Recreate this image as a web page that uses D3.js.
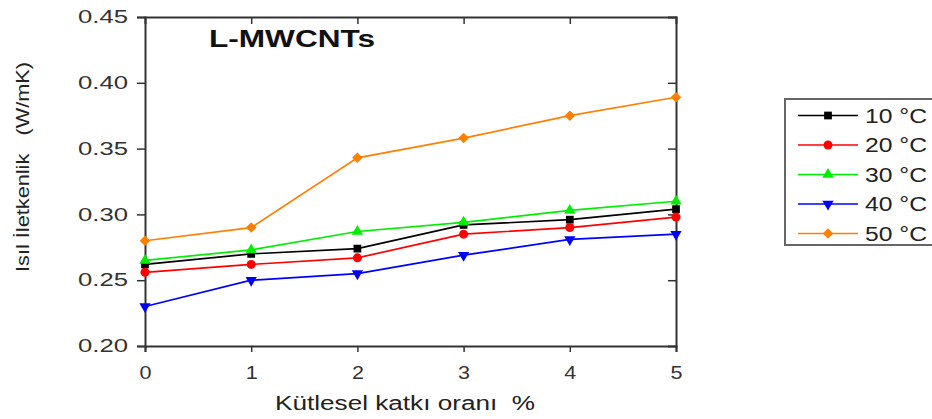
<!DOCTYPE html>
<html><head><meta charset="utf-8">
<script src="https://cdn.jsdelivr.net/npm/d3@7"></script>
<style>body{margin:0;background:#fff}svg{display:block}text{font-family:"Liberation Sans",Arial,sans-serif}</style>
</head><body><svg id="c" width="932" height="419"></svg>
<script>
const xValues = [0, 1, 2, 3, 4, 5];
const s10 = [0.262, 0.270, 0.274, 0.292, 0.296, 0.304];
const s20 = [0.256, 0.262, 0.267, 0.285, 0.290, 0.298];
const s30 = [0.265, 0.273, 0.287, 0.294, 0.303, 0.310];
const s40 = [0.230, 0.250, 0.255, 0.269, 0.281, 0.285];
const s50 = [0.280, 0.290, 0.343, 0.358, 0.375, 0.389];
const seriesNames = ["10 °C", "20 °C", "30 °C", "40 °C", "50 °C"];
const yTicks = [0.20, 0.25, 0.30, 0.35, 0.40, 0.45];

const series = [
  {name: seriesNames[0], vals: s10, color: "#000000", sym: d3.symbolSquare, size: 60, rot: 0},
  {name: seriesNames[1], vals: s20, color: "#ff0000", sym: d3.symbolCircle, size: 64, rot: 0},
  {name: seriesNames[2], vals: s30, color: "#00ee00", sym: d3.symbolTriangle, size: 55, rot: 0},
  {name: seriesNames[3], vals: s40, color: "#0000ff", sym: d3.symbolTriangle, size: 55, rot: 180},
  {name: seriesNames[4], vals: s50, color: "#ff8000", sym: d3.symbolSquare, size: 55, rot: 45}
];

const svg = d3.select("#c");
const L = 145, R = 676, T = 17, B = 346;
const x = d3.scaleLinear().domain([0, 5]).range([L, R]);
const y = d3.scaleLinear().domain([0.20, 0.45]).range([B, T]);

const axCol = "#333";
const gB = svg.append("g").attr("transform", `translate(0,${B})`)
  .call(d3.axisBottom(x).tickValues(xValues).tickFormat(d3.format("d")).tickSize(6).tickPadding(14));
const gL = svg.append("g").attr("transform", `translate(${L},0)`)
  .call(d3.axisLeft(y).tickValues(yTicks).tickFormat(d3.format(".2f")).tickSize(8).tickPadding(9));
const gT = svg.append("g").attr("transform", `translate(0,${T})`)
  .call(d3.axisBottom(x).tickValues(xValues).tickFormat("").tickSize(7));
const gR = svg.append("g").attr("transform", `translate(${R},0)`)
  .call(d3.axisLeft(y).tickValues(yTicks).tickFormat("").tickSize(8));
[gB, gL, gT, gR].forEach(g => {
  g.select(".domain").attr("stroke", axCol).attr("stroke-width", 2);
  g.selectAll(".tick line").attr("stroke", axCol).attr("stroke-width", 1.5);
  g.selectAll(".tick text").attr("fill", "#333").style("font-size", "18px");
  g.attr("font-size", null).attr("font-family", null);
});
gT.selectAll(".tick").filter(d => d === 0 || d === 5).remove();
gR.selectAll(".tick").filter(d => d === 0.20 || d === 0.45).remove();
gL.selectAll(".tick text").attr("textLength", 50).attr("lengthAdjust", "spacingAndGlyphs");
gB.selectAll(".tick text").style("font-size", "19px").attr("textLength", 12).attr("lengthAdjust", "spacingAndGlyphs");

// lines
const line = d3.line().x((d, i) => x(xValues[i])).y(d => y(d));
series.forEach(s => {
  svg.append("path").datum(s.vals).attr("d", line)
    .attr("fill", "none").attr("stroke", s.color).attr("stroke-width", 1.7);
  svg.selectAll(null).data(s.vals).enter().append("path")
    .attr("d", d3.symbol().type(s.sym).size(s.size))
    .attr("transform", (d, i) => `translate(${x(xValues[i])},${y(d)}) rotate(${s.rot})`)
    .attr("fill", s.color);
});

// title
svg.append("text").attr("x", 209).attr("y", 47).text("L-MWCNTs")
  .attr("textLength", 166).attr("lengthAdjust", "spacingAndGlyphs")
  .style("font-size", "23px").style("font-weight", "bold").attr("fill", "#111");

// axis labels
svg.append("text").attr("transform", "translate(29,167) rotate(-90)").attr("text-anchor", "middle")
  .attr("textLength", 210).attr("lengthAdjust", "spacingAndGlyphs").style("white-space", "pre")
  .style("font-size", "18px").attr("fill", "#222").text("Isıl İletkenlik   (W/mK)");
svg.append("text").attr("x", 405).attr("y", 410).attr("text-anchor", "middle")
  .attr("textLength", 260).attr("lengthAdjust", "spacingAndGlyphs").style("white-space", "pre")
  .style("font-size", "20px").attr("fill", "#222").text("Kütlesel katkı oranı  %");

// legend
const lg = svg.append("g");
lg.append("rect").attr("x", 785).attr("y", 99).attr("width", 160).attr("height", 146)
  .attr("fill", "#fff").attr("stroke", "#666").attr("stroke-width", 2);
series.forEach((s, i) => {
  const yy = 115.5 + i * 29.5;
  lg.append("line").attr("x1", 798).attr("x2", 858).attr("y1", yy).attr("y2", yy)
    .attr("stroke", s.color).attr("stroke-width", 1.7);
  lg.append("path").attr("d", d3.symbol().type(s.sym).size(s.size))
    .attr("transform", `translate(828,${yy}) rotate(${s.rot})`).attr("fill", s.color);
  lg.append("text").attr("x", 865).attr("y", yy + 7).text(s.name)
    .attr("textLength", 62).attr("lengthAdjust", "spacingAndGlyphs")
    .style("font-size", "20px").attr("fill", "#222");
});
</script></body></html>
